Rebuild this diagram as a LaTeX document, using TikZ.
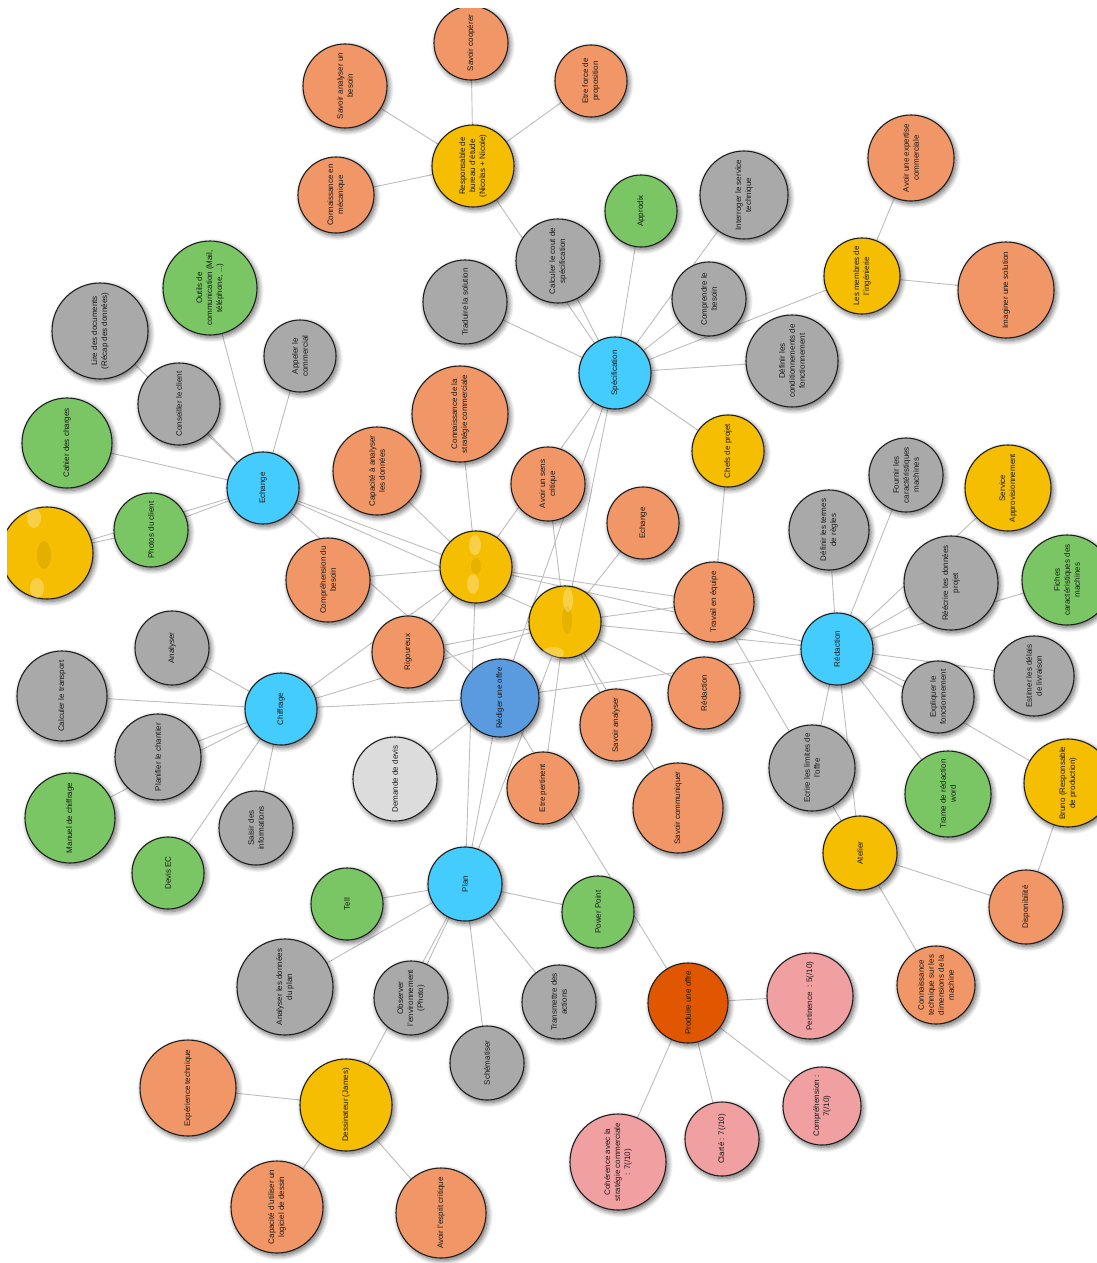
\documentclass[tikz,border=0pt]{standalone}
\usepackage{fontspec}
\setmainfont{Liberation Sans}
\usetikzlibrary{shadows.blur}
\pgfdeclarelayer{bg}
\pgfsetlayers{bg,main}
\definecolor{cOr}{HTML}{F19666}
\definecolor{cYe}{HTML}{F5BE00}
\definecolor{cGr}{HTML}{A9A9A9}
\definecolor{cGn}{HTML}{7AC664}
\definecolor{cBl}{HTML}{45CCFF}
\definecolor{cBd}{HTML}{5A9BE0}
\definecolor{cLg}{HTML}{DCDCDC}
\definecolor{cRe}{HTML}{E05700}
\definecolor{cPk}{HTML}{F1A0A1}
\definecolor{cBg}{HTML}{F4F4F4}
\definecolor{cEd}{HTML}{BDBDBD}
\begin{document}
\begin{tikzpicture}[x=1pt,y=-1pt,
  shd/.style={blur shadow={shadow xshift=2pt,shadow yshift=-2.5pt,shadow blur radius=5pt,shadow opacity=60,shadow blur steps=8}},
  bub/.style={circle,draw=black!88,line width=1.1pt,inner sep=0pt,align=center,rotate=90,
    font=\fontsize{8}{10}\selectfont,text=black!90,shd},
  orn/.style={bub,fill=cOr},
  yel/.style={bub,fill=cYe},
  gry/.style={bub,fill=cGr},
  grn/.style={bub,fill=cGn},
  blu/.style={bub,fill=cBl},
  bld/.style={bub,fill=cBd},
  lgr/.style={bub,fill=cLg},
  red/.style={bub,fill=cRe},
  pnk/.style={bub,fill=cPk},
  ed/.style={draw=cEd,line width=0.9pt},
  blob/.style={fill=white,opacity=0.28}
]
\useasboundingbox (0,0) rectangle (1097,1263);
\begin{pgfonlayer}{bg}
\fill[white] (0,0) rectangle (1097,1263);
\fill[cBg] (7,9) rectangle (1097,1263);
\end{pgfonlayer}
\begin{scope}
\clip (7,9) rectangle (1097,1263);
% tiny hidden first shadow, covered by the node "imag" drawn later
\node[circle,fill=cOr,inner sep=0pt,minimum size=2pt,shd] (dummy) at (1006,290) {};
% top
\node[orn,minimum size=84pt] (sab) at (345,86) {Savoir analyser un\\besoin};
\node[orn,minimum size=74pt] (scoop) at (471,43) {Savoir coopérer};
\node[orn,minimum size=72pt] (efp) at (591,81) {Etre force de\\proposition};
\node[yel,minimum size=82pt] (resp) at (473,166) {Responsable de\\bureau d'étude\\(Nicolas + Nicole)};
\node[orn,minimum size=76pt] (cmeca) at (336,195) {Connaissance en\\mécanique};
\node[grn,minimum size=72pt] (appro) at (641,211) {Approdix};
\node[gry,minimum size=88pt] (interr) at (744,195) {Interroger le service\\technique};
\node[orn,minimum size=86pt] (aexp) at (911,158) {Avoir une expertise\\commerciale};
\node[yel,minimum size=76pt] (membres) at (862,276) {Les membres de\\l'ingénierie};
\node[orn,minimum size=96pt] (imag) at (1006,290) {Imaginer une solution};
\node[gry,minimum size=84pt] (calcs) at (558,261) {Calculer le cout de\\spécification};
\node[gry,minimum size=84pt] (trad) at (465,302) {Traduire la solution};
\node[gry,minimum size=74pt] (compb) at (709,299) {Comprendre le\\besoin};
\node[gry,minimum size=92pt] (defcond) at (792,361) {Définir les\\conditionnements de\\fonctionnement};
\node[blu,minimum size=72pt] (spec) at (615,373) {Spécification};
% left top
\node[grn,minimum size=94pt] (outils) at (210,288) {Outils de\\communication (Mail,\\téléphone, ...)};
\node[gry,minimum size=96pt] (lire) at (100,331) {Lire des documents\\(Récap des données)};
\node[gry,minimum size=72pt] (appel) at (300,356) {Appeler le\\commercial};
\node[gry,minimum size=82pt] (conseil) at (179,404) {Conseiller le client};
\node[grn,minimum size=90pt] (cahier) at (67,443) {Cahier des charges};
\node[orn,minimum size=96pt] (cstrat) at (460,414) {Connaissance de la\\stratégie commerciale};
\node[orn,minimum size=88pt] (capan) at (377,471) {Capacité à analyser\\les données};
\node[blu,minimum size=72pt] (echB) at (263,488) {Echange};
\node[yel,minimum size=72pt] (chefs) at (728,451) {Chefs de projet};
\node[orn,minimum size=74pt] (asens) at (548,484) {Avoir un sens\\critique};
\node[orn,minimum size=72pt] (echO) at (643,523) {Echange};
\node[yel,minimum size=92pt] (yL) at (47,553) {};
\node[grn,minimum size=74pt] (photos) at (151,530) {Photos du client};
\node[orn,minimum size=84pt] (compbes) at (328,580) {Compréhension du\\besoin};
\node[yel,minimum size=72pt] (y1) at (476,567) {};
\node[yel,minimum size=72pt] (y2) at (565,622) {};
\node[orn,minimum size=80pt] (trav) at (714,602) {Travail en équipe};
% right middle
\node[gry,minimum size=80pt] (defterm) at (829,530) {Définir les termes\\de règles};
\node[gry,minimum size=74pt] (fourn) at (906,475) {Fournir les\\caractéristiques\\machines};
\node[yel,minimum size=86pt] (serv) at (1008,488) {Service\\Approvisionnement};
\node[gry,minimum size=94pt] (reecr) at (951,583) {Réécrire les données\\projet};
\node[grn,minimum size=90pt] (fiches) at (1067,580) {Fiches\\caractéristiques des\\machines};
\node[blu,minimum size=72pt] (redB) at (837,649) {Rédaction};
\node[orn,minimum size=72pt] (rig) at (408,652) {Rigoureux};
\node[gry,minimum size=74pt] (analy) at (172,648) {Analyser};
\node[gry,minimum size=90pt] (ctrans) at (62,696) {Calculer le transport};
\node[blu,minimum size=72pt] (chif) at (281,709) {Chiffrage};
\node[bld,minimum size=78pt] (rediger) at (500,698) {Rédiger une offre};
\node[orn,minimum size=72pt] (redO) at (704,693) {Rédaction};
\node[gry,minimum size=80pt] (estim) at (1034,676) {Estimer les délais\\de livraison};
\node[gry,minimum size=72pt] (expl) at (938,697) {Expliquer le\\fonctionnement};
\node[orn,minimum size=72pt] (sanaly) at (616,725) {Savoir analyser};
\node[gry,minimum size=86pt] (planif) at (158,757) {Planifier le chantier};
\node[lgr,minimum size=84pt] (ddevis) at (395,779) {Demande de devis};
\node[gry,minimum size=86pt] (ecrire) at (812,768) {Ecrire les limites de\\l'offre};
\node[orn,minimum size=72pt] (epert) at (543,788) {Etre pertinent};
\node[orn,minimum size=90pt] (scomm) at (678,808) {Savoir communiquer};
\node[grn,minimum size=86pt] (trame) at (948,794) {Trame de rédaction\\word};
\node[yel,minimum size=88pt] (bruno) at (1068,783) {Bruno (Responsable\\de production)};
\node[grn,minimum size=90pt] (manuel) at (70,818) {Manuel de chiffrage};
\node[gry,minimum size=74pt] (saisir) at (256,828) {Saisir des\\informations};
\node[yel,minimum size=74pt] (atelier) at (860,853) {Atelier};
% bottom
\node[grn,minimum size=72pt] (devisec) at (168,873) {Devis EC};
\node[blu,minimum size=74pt] (plan) at (465,884) {Plan};
\node[grn,minimum size=72pt] (tell) at (347,904) {Tell};
\node[grn,minimum size=72pt] (ppt) at (598,912) {Power Point};
\node[orn,minimum size=74pt] (dispo) at (1026,907) {Disponibilité};
\node[gry,minimum size=96pt] (anaplan) at (285,987) {Analyser les données\\du plan};
\node[gry,minimum size=74pt] (observ) at (411,998) {Observer\\l'environnement\\(Photo)};
\node[gry,minimum size=74pt] (transm) at (559,1002) {Transmettre des\\actions};
\node[red,minimum size=80pt] (produire) at (688,1003) {Produire une offre};
\node[orn,minimum size=78pt] (ctech) at (936,985) {Connaissance\\technique sur les\\dimensions de la\\machine};
\node[pnk,minimum size=86pt] (pertin) at (810,996) {Pertinence~~: 5(/10)};
\node[gry,minimum size=74pt] (schema) at (487,1063) {Schématiser};
\node[orn,minimum size=96pt] (exptech) at (188,1088) {Expérience technique};
\node[yel,minimum size=92pt] (dessin) at (346,1105) {Dessinateur (James)};
\node[pnk,minimum size=78pt] (comprn) at (822,1106) {Compréhension :\\7(/10)};
\node[pnk,minimum size=74pt] (clarte) at (722,1139) {Clarté : 7(/10)};
\node[pnk,minimum size=96pt] (coher) at (618,1162) {Cohérence avec la\\stratégie commerciale\\: 7(/10)};
\node[orn,minimum size=92pt] (capdes) at (277,1207) {Capacité d'utiliser un\\logiciel de dessin};
\node[orn,minimum size=90pt] (aesprit) at (441,1213) {Avoir l'esprit critique};
% blurred contents of the three anonymous circles
\fill[cYe!80!black,opacity=0.35] (44,555) ellipse (7 and 14);
\fill[blob] (34,518) ellipse (7 and 10);
\fill[blob] (37,588) ellipse (7 and 10);
\fill[cYe!80!black,opacity=0.3] (476,566) ellipse (5 and 8);
\fill[blob] (475,545) ellipse (6 and 10);
\fill[blob] (473,584) ellipse (6 and 10);
\fill[cYe!80!black,opacity=0.3] (567,620) ellipse (5 and 14);
\fill[blob] (568,600) ellipse (5 and 12);
\fill[blob] (553,653) ellipse (11 and 6);
\end{scope}
\begin{pgfonlayer}{bg}
\foreach \a/\b in {resp/sab,resp/scoop,resp/efp,resp/cmeca,resp/spec,calcs/spec,trad/spec,appro/spec,
  interr/spec,compb/spec,membres/spec,defcond/spec,chefs/spec,membres/aexp,membres/imag,
  echB/outils,echB/appel,echB/conseil,echB/lire,echB/cahier,echB/photos,yL/photos,yL/echB,
  echB/y1,echB/y2,echB/rediger,capan/y1,cstrat/y1,compbes/y1,rig/y1,chif/y1,spec/y1,plan/y1,
  y1/trav,y1/redB,spec/y2,spec/rediger,asens/y2,echO/y2,y2/trav,y2/redB,y2/redO,y2/sanaly,
  y2/scomm,y2/epert,rig/y2,chif/y2,plan/y2,chefs/trav,trav/atelier,
  chif/analy,chif/ctrans,chif/planif,chif/manuel,chif/devisec,chif/saisir,chif/rediger,
  rediger/ddevis,rediger/redB,rediger/plan,rediger/produire,
  redB/defterm,redB/fourn,redB/reecr,redB/serv,redB/fiches,redB/estim,redB/expl,redB/bruno,
  redB/trame,redB/ecrire,redB/atelier,atelier/dispo,atelier/ctech,bruno/dispo,
  plan/tell,plan/anaplan,plan/observ,plan/dessin,plan/schema,plan/transm,plan/ppt,
  dessin/exptech,dessin/capdes,dessin/aesprit,
  produire/pertin,produire/comprn,produire/clarte,produire/coher}
  \draw[ed] (\a.center) -- (\b.center);
\end{pgfonlayer}
\end{tikzpicture}
\end{document}
